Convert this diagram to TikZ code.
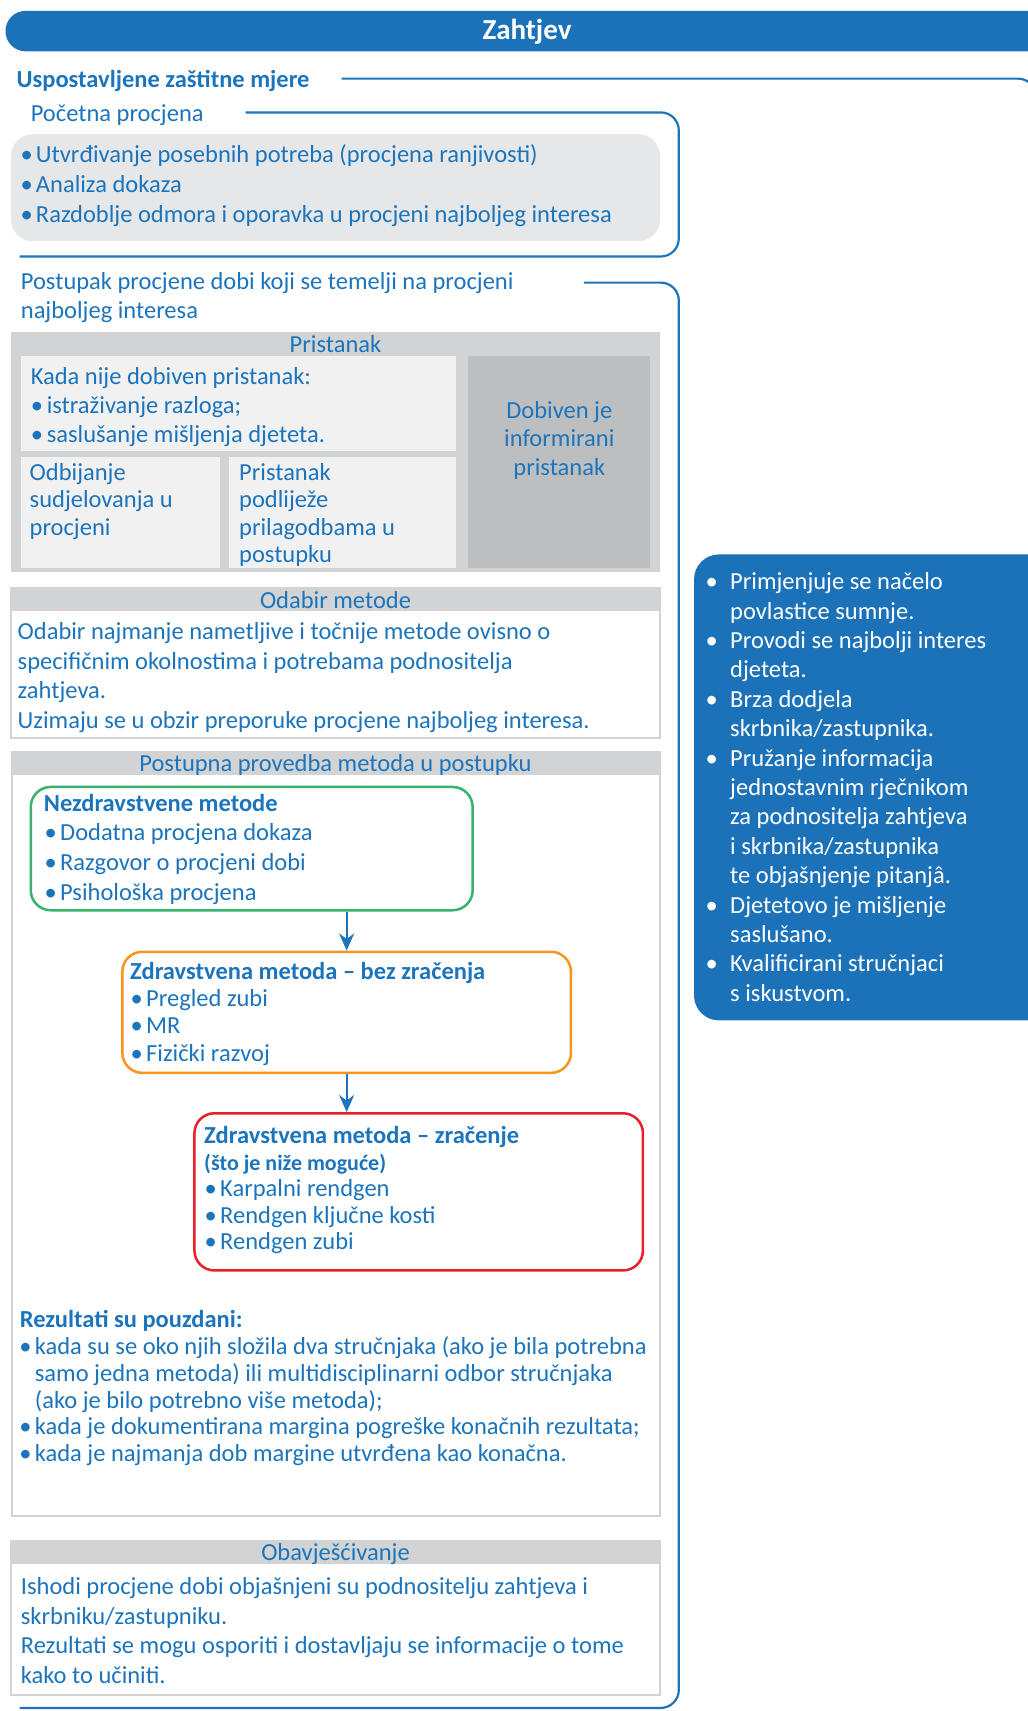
\documentclass[tikz,border=0pt]{standalone}
\usepackage{fontspec}
\setmainfont{Carlito}
\usetikzlibrary{arrows.meta}

\definecolor{tblue}{HTML}{1C75BC}
\definecolor{barblue}{HTML}{1C72B9}
\definecolor{hdrgrey}{HTML}{D1D3D4}
\definecolor{lightbox}{HTML}{F1F1F2}
\definecolor{darkbox}{HTML}{BCBEC0}
\definecolor{roundgrey}{HTML}{E6E7E8}
\definecolor{mgreen}{HTML}{37B36C}
\definecolor{morange}{HTML}{F7941D}
\definecolor{mred}{HTML}{E8202A}

\newcommand\fsbody{\fontsize{24.5}{29}\selectfont}
\newcommand\bl[1]{\makebox[14pt][l]{\hspace*{-1.5pt}•}#1}
\newcommand\ind{\hspace*{14pt}}
\newcommand\rb[1]{\makebox[24.5pt][l]{•}#1}
\newcommand\ri{\hspace*{24.5pt}}

\tikzset{
  txt/.style={anchor=base west, inner sep=0pt, text=tblue, font=\fsbody, yshift=-2pt},
  txtb/.style={txt, font=\fsbody\bfseries},
  hdr/.style={anchor=base, inner sep=0pt, text=tblue, font=\fsbody, yshift=-2pt},
  ctxt/.style={anchor=base, inner sep=0pt, text=tblue, font=\fsbody, yshift=-2pt},
  rtxt/.style={anchor=base west, inner sep=0pt, text=white, font=\fontsize{24.5}{29}\selectfont, yshift=-1pt},
  brk/.style={draw=tblue, line width=2.2pt, rounded corners=18pt},
  methodbox/.style={draw=#1, line width=2.5pt, rounded corners=20pt, anchor=north west, inner sep=0pt},
  arr/.style={draw=tblue, line width=2pt, -{Stealth[length=17pt,width=15pt]}},
}

% a block of text lines, one node per line, at a fixed line spacing
\newcommand\lines[6][txt]{%
  \foreach \ln [count=\k] in {#6} {
    \node[#1] (#2-\k) at (#3,{#4+(\k-1)*#5}) {\ln};
  }%
}

\begin{document}
\begin{tikzpicture}[x=1pt,y=-1pt]
\useasboundingbox (0,0) rectangle (1028,1711);

% title bar
\fill[barblue, rounded corners=20pt] (5.5,10.9) rectangle (1070,51.3);
\node[inner sep=0pt, text=white, font=\fontsize{29}{34}\selectfont\bfseries] (title) at (527,32) {Zahtjev};

% protective measures bracket
\node[txtb] (mjere) at (16.4,85.6) {Uspostavljene zaštitne mjere};
\draw[brk] (341.6,78.6) -- (1036,78.6) -- (1036,140);

% initial assessment
\node[txt] (pocetna) at (30.6,119.4) {Početna procjena};
\draw[brk] (245.5,112.4) -| (678.8,256.5) -- (19.6,256.5);
\fill[roundgrey, rounded corners=22pt] (10.9,134.2) rectangle (660.2,241.2);
\lines{pp}{21.8}{160.9}{30}{{\bl{Utvrđivanje posebnih potreba (procjena ranjivosti)}},{\bl{Analiza dokaza}},{\bl{Razdoblje odmora i oporavka u procjeni najboljeg interesa}}}

% age assessment procedure
\lines{post}{20.7}{287.5}{29.4}{{Postupak procjene dobi koji se temelji na procjeni},{najboljeg interesa}}
\draw[brk] (583.8,282.6) -| (678.8,1707.9) -- (19.6,1707.9);

% consent
\fill[hdrgrey] (10.9,331.8) rectangle (660.2,571.8);
\fill[lightbox] (20.7,355.8) rectangle (456.2,450.7);
\fill[lightbox] (20.7,457.3) rectangle (220.4,567.5);
\fill[lightbox] (229.2,457.3) rectangle (456.2,567.5);
\fill[darkbox] (468.2,355.8) rectangle (650.4,567.5);
\node[hdr] (pristanak) at (335.5,350.8) {Pristanak};
\lines{kada}{30.6}{382.4}{28.9}{{Kada nije dobiven pristanak:},{\makebox[16pt][l]{•}istraživanje razloga;},{\makebox[16pt][l]{•}saslušanje mišljenja djeteta.}}
\lines{odb}{29.5}{478.4}{27.3}{{Odbijanje},{sudjelovanja u},{procjeni}}
\lines{pril}{239}{478.4}{27.3}{{Pristanak},{podliježe},{prilagodbama u},{postupku}}
\lines[ctxt]{dob}{559.3}{416.2}{28.4}{{Dobiven je},{informirani},{pristanak}}

% choice of method
\draw[hdrgrey, line width=2pt, fill=white] (10.9,588.2) rectangle (660.2,737.7);
\fill[hdrgrey] (10.9,588.2) rectangle (660.2,611.1);
\node[hdr] (odabir) at (335.5,606.1) {Odabir metode};
\lines{odt}{17.5}{637.8}{29.5}{{Odabir najmanje nametljive i točnije metode ovisno o},{specifičnim okolnostima i potrebama podnositelja},{zahtjeva.},{Uzimaju se u obzir preporuke procjene najboljeg interesa.}}

% gradual application of methods
\draw[hdrgrey, line width=2pt, fill=white] (12,751.9) rectangle (660.2,1515.8);
\fill[hdrgrey] (12,751.9) rectangle (660.2,774.8);
\node[hdr] (postupna) at (335.5,769.8) {Postupna provedba metoda u postupku};

\node[methodbox=mgreen, minimum width=441.9pt, minimum height=123.3pt] (green) at (29.5,785.7) {};
\node[txtb] (gt) at (43.7,809.1) {Nezdravstvene metode};
\lines{gl}{46}{838.5}{30}{{\bl{Dodatna procjena dokaza}},{\bl{Razgovor o procjeni dobi}},{\bl{Psihološka procjena}}}

\node[methodbox=morange, minimum width=448.6pt, minimum height=121.1pt] (orange) at (121.1,950.5) {};
\node[txtb] (ot) at (129.9,977.2) {Zdravstvena metoda – bez zračenja};
\lines{ol}{132}{1004.4}{27.3}{{\bl{Pregled zubi}},{\bl{MR}},{\bl{Fizički razvoj}}}

\node[methodbox=mred, minimum width=448.5pt, minimum height=157.2pt] (red) at (193.2,1112) {};
\node[txtb] (rt) at (204,1141.1) {Zdravstvena metoda – zračenje};
\node[txt, font=\fontsize{22}{26}\selectfont\bfseries] (rs) at (204,1168.4) {(što je niže moguće)};
\lines{rl}{206}{1194.5}{26.6}{{\bl{Karpalni rendgen}},{\bl{Rendgen ključne kosti}},{\bl{Rendgen zubi}}}

\draw[arr] (green.south -| orange.north) -- (orange.north);
\draw[arr] (orange.south) -- (orange.south |- red.north);

\node[txtb] (rez) at (19.6,1325.3) {Rezultati su pouzdani:};
\lines{rz}{20.7}{1352.6}{26.75}{{\bl{kada su se oko njih složila dva stručnjaka (ako je bila potrebna}},{\ind samo jedna metoda) ili multidisciplinarni odbor stručnjaka},{\ind (ako je bilo potrebno više metoda);},{\bl{kada je dokumentirana margina pogreške konačnih rezultata;}},{\bl{kada je najmanja dob margine utvrđena kao konačna.}}}

% informing
\draw[hdrgrey, line width=2pt, fill=white] (10.9,1540.9) rectangle (660.2,1694.8);
\fill[hdrgrey] (10.9,1540.9) rectangle (660.2,1563.8);
\node[hdr] (obav) at (335.5,1558.8) {Obavješćivanje};
\lines{ob}{20.7}{1592.7}{29.5}{{Ishodi procjene dobi objašnjeni su podnositelju zahtjeva i},{skrbniku/zastupniku.},{Rezultati se mogu osporiti i dostavljaju se informacije o tome},{kako to učiniti.}}

% safeguards panel
\fill[barblue, rounded corners=25pt] (694,554.4) rectangle (1070,1020.4);
\lines[rtxt]{sg}{705.5}{588.6}{29.4}{{\rb{Primjenjuje se načelo}},{\ri povlastice sumnje.},{\rb{Provodi se najbolji interes}},{\ri djeteta.},{\rb{Brza dodjela}},{\ri skrbnika/zastupnika.},{\rb{Pružanje informacija}},{\ri jednostavnim rječnikom},{\ri za podnositelja zahtjeva},{\ri i skrbnika/zastupnika},{\ri te objašnjenje pitanjâ.},{\rb{Djetetovo je mišljenje}},{\ri saslušano.},{\rb{Kvalificirani stručnjaci}},{\ri s iskustvom.}}
\end{tikzpicture}
\end{document}
